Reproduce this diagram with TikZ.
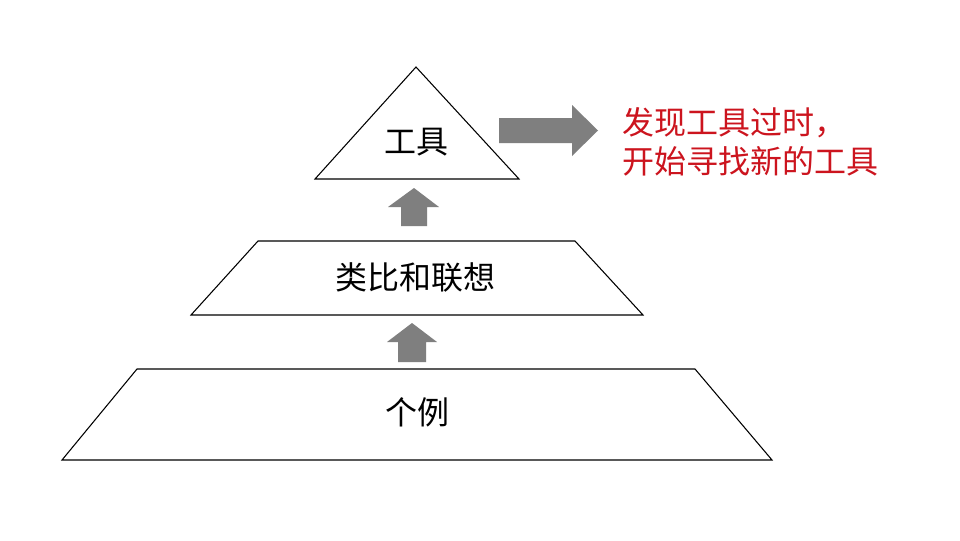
\documentclass[tikz,border=0pt]{standalone}
\usepackage{fontspec}
\newfontfamily\cjk{Noto Sans CJK SC}
\definecolor{arrowgray}{RGB}{127,127,127}
\definecolor{notered}{RGB}{204,20,30}
\begin{document}
\begin{tikzpicture}[x=0.75pt,y=-0.75pt,
  layer/.style={draw=black,line width=0.8pt,fill=white,line join=miter},
  blockarrow/.style={fill=arrowgray,draw=none},
  label/.style={font=\cjk\fontsize{24}{28}\selectfont,text=black,inner sep=0pt},
  note/.style={font=\cjk\fontsize{24}{29.3}\selectfont,text=notered,inner sep=0pt,align=left,anchor=west}]
\useasboundingbox[fill=white] (0,0) rectangle (960,540);
% layers
\draw[layer] (416,67) -- (519,179) -- (315,179) -- cycle;
\draw[layer] (258,241) -- (575,241) -- (643,315) -- (191,315) -- cycle;
\draw[layer] (137,369) -- (695,369) -- (772,460) -- (62,460) -- cycle;
% labels
\node[label] (tool) at (416,142) {工具};
\node[label] (analogy) at (415,277) {类比和联想};
\node[label] (cases) at (417,412) {个例};
% up arrows
\fill[blockarrow] (401,226) -- (401,207) -- (388,207) -- (414,188) -- (439,207) -- (427,207) -- (427,226) -- cycle;
\fill[blockarrow] (398,362) -- (398,342) -- (387,342) -- (412,323) -- (437,342) -- (426,342) -- (426,362) -- cycle;
% right arrow
\fill[blockarrow] (499,118) -- (572,118) -- (572,105) -- (598,130.5) -- (572,156) -- (572,143) -- (499,143) -- cycle;
% note
\node[note] (noteText) at (622,142) {发现工具过时，\\开始寻找新的工具};
\end{tikzpicture}
\end{document}
